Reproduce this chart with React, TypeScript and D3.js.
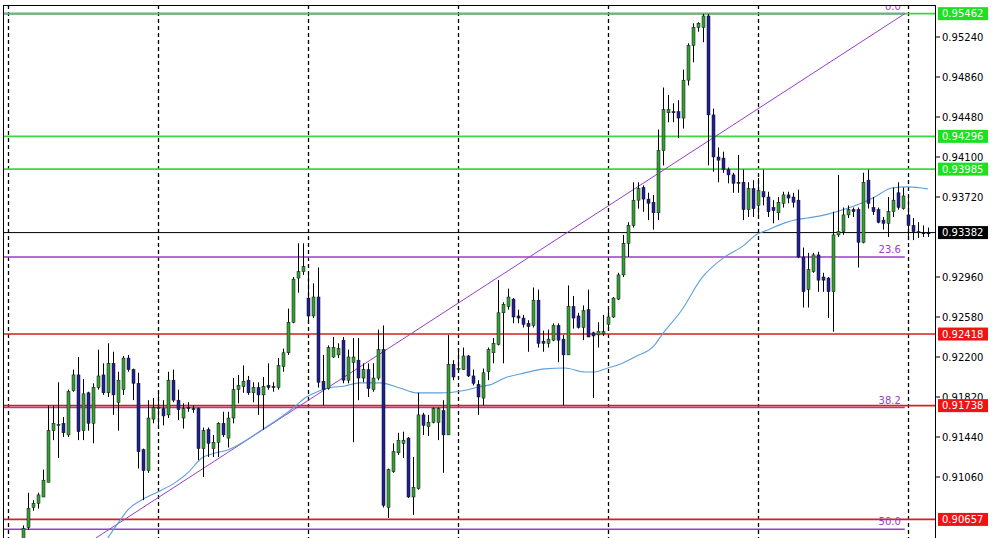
import React from "react";
import * as d3 from "d3";

// candle prices, one per bar (oldest first)
const opens = [
  0.9041, 0.9058, 0.9077, 0.9081, 0.9087, 0.9101, 0.915, 0.9155, 0.9157, 0.9146,
  0.9188, 0.9203, 0.915, 0.9186, 0.9157, 0.9191, 0.9203, 0.9186, 0.9214, 0.9177,
  0.9189, 0.9219, 0.9208, 0.9195, 0.9132, 0.9112, 0.9161, 0.9171, 0.9171, 0.9165,
  0.9198, 0.9179, 0.9162, 0.9172, 0.9171, 0.9171, 0.9133, 0.9151, 0.9133, 0.9139,
  0.9157, 0.9143, 0.9162, 0.9189, 0.9192, 0.9198, 0.9186, 0.9191, 0.9184, 0.9193,
  0.9192, 0.9191, 0.9211, 0.9224, 0.9253, 0.9295, 0.9301, 0.9276, 0.9259, 0.9277,
  0.9197, 0.919, 0.922, 0.9222, 0.9236, 0.9198, 0.9215, 0.9217, 0.92, 0.9208,
  0.9189, 0.92, 0.9227, 0.9077, 0.9111, 0.9129, 0.9138, 0.9143, 0.9087, 0.9095,
  0.9165, 0.9154, 0.9158, 0.9158, 0.9169, 0.9146, 0.9213, 0.9208, 0.9208, 0.9221,
  0.9202, 0.9194, 0.9181, 0.9206, 0.9224, 0.9232, 0.9262, 0.9268, 0.9275, 0.9259,
  0.9257, 0.9252, 0.925, 0.9274, 0.9235, 0.9233, 0.9236, 0.925, 0.9237, 0.9222,
  0.9268, 0.9259, 0.9248, 0.9265, 0.9243, 0.9241, 0.9242, 0.9251, 0.9258, 0.9275,
  0.9298, 0.9328, 0.9345, 0.9369, 0.9381, 0.937, 0.9367, 0.9357, 0.9416, 0.9452,
  0.9453, 0.9453, 0.9447, 0.9483, 0.9516, 0.9533, 0.9533, 0.9544, 0.945, 0.941,
  0.9409, 0.9398, 0.9393, 0.9386, 0.9386, 0.936, 0.938, 0.9364, 0.9377, 0.9372,
  0.9362, 0.9357, 0.9366, 0.9374, 0.9372, 0.9369, 0.9315, 0.9284, 0.9301, 0.9317,
  0.9296, 0.9295, 0.9282, 0.9336, 0.9339, 0.9355, 0.936, 0.936, 0.9329, 0.9388,
  0.9362, 0.936, 0.935, 0.9347, 0.9358, 0.9376, 0.9361, 0.9355, 0.9345, 0.9339,
  0.9338, 0.9338,
];
const highs = [
  0.906, 0.9091, 0.9084, 0.9091, 0.9113, 0.9174, 0.9174, 0.9196, 0.9163, 0.9189,
  0.9208, 0.922, 0.9199, 0.9187, 0.9195, 0.9227, 0.9214, 0.9233, 0.9225, 0.9206,
  0.9221, 0.9222, 0.9209, 0.9205, 0.9133, 0.9179, 0.9181, 0.9186, 0.9179, 0.9206,
  0.9208, 0.9189, 0.9176, 0.9177, 0.9174, 0.9172, 0.9153, 0.9153, 0.9146, 0.9158,
  0.9168, 0.9168, 0.92, 0.9203, 0.9212, 0.9202, 0.9196, 0.9196, 0.9201, 0.9214,
  0.9196, 0.9219, 0.9228, 0.9266, 0.9296, 0.9328, 0.9328, 0.93, 0.929, 0.9305,
  0.9222, 0.9231, 0.9239, 0.9233, 0.9239, 0.9227, 0.9238, 0.9238, 0.9214, 0.9214,
  0.9214, 0.9246, 0.925, 0.9114, 0.9138, 0.9148, 0.9149, 0.9144, 0.9125, 0.9186,
  0.9167, 0.9165, 0.9172, 0.9172, 0.9179, 0.9241, 0.9217, 0.9228, 0.9229, 0.9222,
  0.9208, 0.9198, 0.9209, 0.9229, 0.9238, 0.9293, 0.9272, 0.9285, 0.9276, 0.9265,
  0.926, 0.9255, 0.9286, 0.9284, 0.9245, 0.9246, 0.9252, 0.9252, 0.9241, 0.9288,
  0.9278, 0.9262, 0.9269, 0.9284, 0.9244, 0.9253, 0.926, 0.9265, 0.9277, 0.93,
  0.9336, 0.9348, 0.9386, 0.9386, 0.9383, 0.9376, 0.9374, 0.9436, 0.9476, 0.9469,
  0.9461, 0.9464, 0.9493, 0.9518, 0.9537, 0.9538, 0.9546, 0.9546, 0.9456, 0.9419,
  0.9415, 0.94, 0.9395, 0.9412, 0.9398, 0.9386, 0.9388, 0.939, 0.9398, 0.9377,
  0.9369, 0.9372, 0.9377, 0.9377, 0.9376, 0.9379, 0.9324, 0.9319, 0.9319, 0.932,
  0.93, 0.9296, 0.9358, 0.9393, 0.9362, 0.9364, 0.9362, 0.9362, 0.9395, 0.9398,
  0.9372, 0.9362, 0.9353, 0.9372, 0.9381, 0.9386, 0.9381, 0.9374, 0.9352, 0.9348,
  0.9345, 0.9343,
];
const lows = [
  0.9037, 0.9056, 0.9074, 0.9076, 0.9087, 0.9101, 0.9141, 0.9124, 0.9144, 0.9144,
  0.9187, 0.9141, 0.9141, 0.915, 0.9138, 0.9189, 0.9184, 0.9182, 0.9165, 0.915,
  0.9184, 0.9206, 0.9179, 0.9114, 0.9084, 0.911, 0.9157, 0.9153, 0.9155, 0.9162,
  0.9177, 0.916, 0.9152, 0.9168, 0.9167, 0.9122, 0.9106, 0.9125, 0.9125, 0.9125,
  0.9144, 0.9134, 0.9157, 0.9176, 0.9186, 0.9184, 0.9177, 0.9165, 0.9151, 0.9189,
  0.9187, 0.9189, 0.9206, 0.9222, 0.9252, 0.9281, 0.9298, 0.9255, 0.9257, 0.9191,
  0.9174, 0.9189, 0.9219, 0.9219, 0.9195, 0.9195, 0.9139, 0.9179, 0.9196, 0.9182,
  0.9187, 0.9198, 0.9077, 0.9067, 0.911, 0.9127, 0.9124, 0.9086, 0.907, 0.9094,
  0.9146, 0.9145, 0.9157, 0.9141, 0.911, 0.9146, 0.9198, 0.9206, 0.9208, 0.9201,
  0.9193, 0.9165, 0.9174, 0.9198, 0.9214, 0.9231, 0.9214, 0.9265, 0.9252, 0.9252,
  0.9248, 0.9225, 0.9248, 0.9229, 0.9225, 0.9229, 0.9235, 0.9215, 0.9174, 0.9222,
  0.9247, 0.9247, 0.9236, 0.9239, 0.9181, 0.9229, 0.924, 0.9248, 0.9257, 0.9274,
  0.9296, 0.9315, 0.9343, 0.9361, 0.9358, 0.935, 0.9341, 0.935, 0.9402, 0.9443,
  0.9443, 0.9428, 0.9437, 0.9478, 0.95, 0.9529, 0.9519, 0.9402, 0.9396, 0.9386,
  0.9395, 0.9385, 0.9376, 0.9376, 0.935, 0.9353, 0.9353, 0.9355, 0.9364, 0.9353,
  0.9347, 0.935, 0.9362, 0.9366, 0.9362, 0.9314, 0.9267, 0.9267, 0.93, 0.9282,
  0.9282, 0.9257, 0.9244, 0.9334, 0.9336, 0.9352, 0.9353, 0.9305, 0.9328, 0.9361,
  0.9355, 0.9347, 0.9341, 0.9334, 0.9353, 0.936, 0.936, 0.9331, 0.9331, 0.9333,
  0.9334, 0.9334,
];
const closes = [
  0.9057, 0.9076, 0.9081, 0.9089, 0.9103, 0.915, 0.9157, 0.9156, 0.9148, 0.9187,
  0.9203, 0.9149, 0.9185, 0.9157, 0.9191, 0.9202, 0.9186, 0.9214, 0.9184, 0.9198,
  0.9219, 0.9208, 0.9195, 0.913, 0.9112, 0.9162, 0.9172, 0.9172, 0.9164, 0.9198,
  0.9179, 0.917, 0.9171, 0.9171, 0.917, 0.9133, 0.915, 0.9138, 0.9139, 0.9157,
  0.9146, 0.9162, 0.9189, 0.9193, 0.9197, 0.9186, 0.9191, 0.9184, 0.9192, 0.9191,
  0.9191, 0.9212, 0.9224, 0.9253, 0.9294, 0.9301, 0.9306, 0.9259, 0.9277, 0.9196,
  0.9189, 0.9229, 0.9229, 0.9228, 0.9198, 0.922, 0.922, 0.92, 0.9208, 0.919,
  0.92, 0.9227, 0.9079, 0.9113, 0.913, 0.9141, 0.9141, 0.9087, 0.9096, 0.9165,
  0.9155, 0.9158, 0.9171, 0.9171, 0.9146, 0.9213, 0.9201, 0.9209, 0.9221, 0.9202,
  0.9195, 0.9182, 0.9205, 0.9227, 0.9233, 0.9262, 0.927, 0.9277, 0.9258, 0.9257,
  0.9251, 0.9249, 0.9274, 0.9233, 0.9233, 0.9237, 0.925, 0.9236, 0.9222, 0.9268,
  0.9257, 0.9248, 0.9264, 0.9239, 0.924, 0.9244, 0.9244, 0.9258, 0.9276, 0.9298,
  0.9328, 0.9345, 0.9369, 0.938, 0.937, 0.9366, 0.9357, 0.9416, 0.9455, 0.9455,
  0.9452, 0.9447, 0.9483, 0.9516, 0.9533, 0.9537, 0.9544, 0.945, 0.941, 0.9407,
  0.9398, 0.9393, 0.9385, 0.9385, 0.936, 0.938, 0.9361, 0.9378, 0.9372, 0.9358,
  0.9359, 0.9367, 0.9374, 0.9371, 0.9367, 0.9315, 0.9282, 0.9303, 0.9317, 0.9293,
  0.9293, 0.9282, 0.9336, 0.9339, 0.9355, 0.936, 0.9358, 0.9329, 0.9386, 0.9366,
  0.9358, 0.9348, 0.9347, 0.9358, 0.9369, 0.9362, 0.9373, 0.9345, 0.9339, 0.9338,
  0.9338, 0.9338,
];

// moving average (bar index, value)
const maIdx = [
  16.9, 19.7, 20.9, 23.7, 26.9, 30.3, 32.9, 35.7, 37.7, 40.9, 47.7, 54.3, 56.3,
  58.3, 60.9, 64.3, 67.3, 71.3, 75.3, 78.7, 83.3, 88.7, 91.3, 93.3, 96.3, 100.3,
  104.3, 108.3, 112.3, 114.3, 116.9, 118.9, 122.3, 126.3, 127.7, 131.7, 135.7,
  140.3, 143.7, 146.9, 148.9, 152.3, 154.3, 156.9, 160.3, 163.7, 167.7, 170.3,
  173.7, 176.9, 180.9,
];
const maVal = [
  0.90481, 0.90671, 0.90747, 0.90842, 0.90918, 0.91004, 0.91099, 0.91241,
  0.91279, 0.91317, 0.91507, 0.91727, 0.91811, 0.91859, 0.91906, 0.91925,
  0.91954, 0.91954, 0.91906, 0.91859, 0.91859, 0.91887, 0.91917, 0.91935,
  0.92001, 0.92049, 0.92087, 0.92096, 0.92058, 0.92058, 0.92096, 0.92125,
  0.92201, 0.92315, 0.9241, 0.92647, 0.92951, 0.93151, 0.93246, 0.9337,
  0.93407, 0.93474, 0.93502, 0.93521, 0.9355, 0.93597, 0.93664, 0.93721,
  0.93806, 0.93816, 0.93797,
];

// horizontal levels
const greenLevels = [0.95462, 0.94296, 0.93985];
const redLevels = [0.92418, 0.91738, 0.90657];
const bidPrice = 0.93382;

// fibonacci retracement
const fibHigh = 0.95462;
const fibLow = 0.85665;
const fibRatios = [0, 23.6, 38.2, 50.0];
const fibEndIdx = 176.3;

// trend line anchors (bar index, price)
const trendIdx = [14.5, 176.3];
const trendVal = [0.9048, 0.95462];

// tick labels not covered by a level box
const yTicks = [
  0.9524, 0.9486, 0.9448, 0.941, 0.9372, 0.9296, 0.9258, 0.922, 0.9182,
  0.9144, 0.9106,
];
const gridIdx = [-3, 27, 57, 87, 117, 147, 177];

const W = 1001;
const H = 538;
const left = 3;
const top = 5;
const axisX = 935;

const BULL = "#34a034";
const BEAR = "#1f1f96";
const GREEN = "#3bd83b";
const RED = "#d42020";
const VIOLET = "#9a3ccb";
const font = "DejaVu Sans, sans-serif";

export default function App() {
  const x = d3.scaleLinear().domain([0, 181]).range([23.3, 928.3]);
  const y = d3.scaleLinear().domain([0.9524, 0.9106]).range([37, 477]);

  const maLine = d3
    .line<number>()
    .x((_, i) => x(maIdx[i]))
    .y((d) => y(d))
    .curve(d3.curveMonotoneX);

  const fibLevel = (r: number) => fibHigh - ((fibHigh - fibLow) * r) / 100;

  return (
    <div style={{ position: "absolute", left: 0, top: 0 }}>
      <svg width={W} height={H} style={{ display: "block", background: "#fff" }}>
        <defs>
          <clipPath id="plot">
            <rect x={left} y={top} width={axisX - left} height={H - top} />
          </clipPath>
        </defs>

        <g clipPath="url(#plot)">
          {gridIdx.map((g) => (
            <line
              key={g}
              x1={Math.round(x(g)) + 0.5}
              x2={Math.round(x(g)) + 0.5}
              y1={top}
              y2={H}
              stroke="#000"
              strokeWidth={1.3}
              strokeDasharray="4,3"
            />
          ))}

          {fibRatios.map((r) => (
            <line
              key={r}
              x1={left}
              x2={x(fibEndIdx)}
              y1={y(fibLevel(r))}
              y2={y(fibLevel(r))}
              stroke={VIOLET}
              strokeWidth={1.6}
            />
          ))}

          {greenLevels.map((v) => (
            <line key={v} x1={left} x2={axisX} y1={y(v)} y2={y(v)} stroke={GREEN} strokeWidth={1.6} />
          ))}
          {redLevels.map((v) => (
            <line key={v} x1={left} x2={axisX} y1={y(v)} y2={y(v)} stroke={RED} strokeWidth={1.6} />
          ))}
          <line x1={left} x2={axisX} y1={y(bidPrice)} y2={y(bidPrice)} stroke="#000" strokeWidth={1} />

          <line
            x1={x(trendIdx[0])}
            y1={y(trendVal[0])}
            x2={x(trendIdx[1])}
            y2={y(trendVal[1])}
            stroke={VIOLET}
            strokeWidth={1}
          />

          <path d={maLine(maVal) || ""} fill="none" stroke="#5d9fdc" strokeWidth={1.1} />

          {opens.map((o, i) => {
            const c = closes[i];
            const cx = Math.round(x(i));
            const yTop = y(Math.max(o, c));
            const yBot = y(Math.min(o, c));
            const fill = c > o ? BULL : c < o ? BEAR : "#000";
            return (
              <g key={i}>
                <line
                  x1={cx + 0.5}
                  x2={cx + 0.5}
                  y1={y(highs[i])}
                  y2={y(lows[i])}
                  stroke="#000"
                  strokeWidth={1}
                />
                <rect
                  x={cx - 1}
                  y={yTop}
                  width={3}
                  height={Math.max(1, yBot - yTop)}
                  fill={fill}
                  stroke="#111"
                  strokeWidth={0.5}
                />
              </g>
            );
          })}

          {fibRatios.map((r) => (
            <text
              key={r}
              x={x(fibEndIdx) - 4}
              y={y(fibLevel(r)) - 4}
              textAnchor="end"
              fontFamily={font}
              fontSize={10}
              fill={VIOLET}
            >
              {r.toFixed(1)}
            </text>
          ))}
        </g>

        {/* frame */}
        <line x1={left + 0.5} x2={left + 0.5} y1={top} y2={H} stroke="#000" />
        <line x1={left} x2={axisX} y1={top + 0.5} y2={top + 0.5} stroke="#000" />
        <line x1={axisX + 0.5} x2={axisX + 0.5} y1={top} y2={H} stroke="#000" />

        {/* price axis */}
        {yTicks.map((t) => (
          <g key={t} transform={`translate(${axisX},${y(t)})`}>
            <line x1={0} x2={5} stroke="#000" />
            <text x={7} dy="0.35em" fontFamily={font} fontSize={10} fill="#000">
              {t.toFixed(5)}
            </text>
          </g>
        ))}

        {[
          ...greenLevels.map((v) => ({ v, c: "#1ee01e" })),
          ...redLevels.map((v) => ({ v, c: "#ee1414" })),
          { v: bidPrice, c: "#000" },
        ].map(({ v, c }) => (
          <g key={v} transform={`translate(${axisX + 3},${y(v)})`}>
            <rect x={0} y={-6.5} width={50} height={13} fill={c} />
            <text x={4} dy="0.35em" fontFamily={font} fontSize={10} fill="#fff">
              {v.toFixed(5)}
            </text>
          </g>
        ))}
      </svg>
    </div>
  );
}
